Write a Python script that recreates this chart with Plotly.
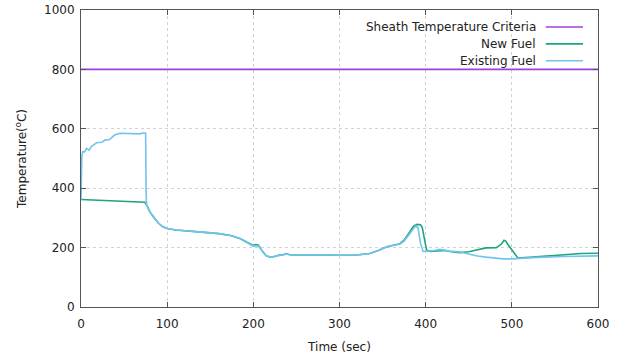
import plotly.graph_objects as go

# ---- data ----
t_crit = [0, 600]
temp_crit = [800, 800]

t_new = [0, 10, 30, 50, 70, 74, 76, 80, 85, 90, 95, 100, 110, 120, 140, 160, 175, 185, 195, 200,
         203, 206, 210, 215, 220, 225, 230, 235, 238, 242, 250, 270, 300, 320, 335, 345, 355, 365,
         370, 375, 380, 386, 390, 394, 396, 398, 401, 405, 415, 422, 430, 440, 450, 460, 470, 482,
         488, 491, 493, 495, 498, 503, 507, 520, 540, 560, 580, 600]
temp_new = [362, 361, 359, 357, 355, 353, 345, 320, 300, 282, 270, 264, 259, 256, 252, 247, 240, 230,
            215, 207, 210, 208, 190, 172, 168, 170, 175, 176, 180, 176, 175, 176, 174, 175, 180, 190,
            203, 210, 213, 225, 245, 272, 278, 277, 268, 240, 192, 187, 188, 190, 186, 183, 186, 192,
            199, 200, 212, 225, 222, 212, 200, 180, 165, 167, 172, 176, 180, 181]

t_exist = [0, 0.5, 1, 2, 4, 6.5, 9.5, 12, 18, 24, 28, 33, 39, 45, 55, 65, 68, 72, 74, 75, 75.5, 76,
           80, 85, 90, 95, 100, 110, 120, 140, 160, 175, 185, 195, 200, 203, 206, 210, 215, 220, 225,
           230, 235, 238, 242, 250, 270, 300, 320, 335, 345, 355, 365, 370, 375, 380, 388, 391, 394,
           397, 405, 410, 416, 420, 428, 440, 450, 460, 470, 480, 490, 500, 510, 530, 560, 600]
temp_exist = [360, 480, 510, 523, 522, 534, 528, 540, 553, 555, 562, 564, 579, 585, 585, 585, 583, 586,
              587, 585, 400, 345, 320, 300, 282, 270, 264, 259, 256, 252, 247, 240, 230, 215, 205, 206,
              205, 190, 172, 168, 170, 174, 176, 180, 176, 175, 176, 174, 175, 180, 190, 203, 210, 212,
              222, 240, 272, 268, 215, 187, 188, 190, 194, 192, 188, 185, 178, 172, 168, 164, 162, 162,
              164, 167, 170, 172]

series_names = ["Sheath Temperature Criteria", "New Fuel", "Existing Fuel"]
colors = ["#a23de0", "#1ea57c", "#72c3ee"]

FONT = "DejaVu Sans"
TXT = "#222"

fig = go.Figure()
for x, y, name, c in zip([t_crit, t_new, t_exist], [temp_crit, temp_new, temp_exist], series_names, colors):
    fig.add_trace(go.Scatter(x=x, y=y, mode="lines", name=name,
                             line=dict(color=c, width=1.6), showlegend=False))

# manual gnuplot-style legend (text left, sample right)
rows_y = [0.943, 0.886, 0.829]
for name, c, yy in zip(series_names, colors, rows_y):
    fig.add_annotation(x=0.884, y=yy, xref="paper", yref="paper", text=name, showarrow=False,
                       xanchor="right", yanchor="middle", font=dict(family=FONT, size=12, color=TXT))
    fig.add_shape(type="line", xref="paper", yref="paper", x0=0.899, x1=0.971, y0=yy, y1=yy,
                  line=dict(color=c, width=1.6))

axis_common = dict(showline=True, linecolor="#555", linewidth=1, mirror="allticks",
                   ticks="inside", ticklen=5, tickcolor="#555", zeroline=False, automargin=False,
                   showgrid=True, gridcolor="#d2d2d2", griddash="dot", gridwidth=1,
                   tickfont=dict(family=FONT, size=12, color=TXT))

fig.update_xaxes(range=[0, 600], dtick=100, tick0=0, ticklabelstandoff=6,
                 title=dict(text="Time (sec)", font=dict(family=FONT, size=12, color=TXT), standoff=12),
                 **axis_common)
fig.update_yaxes(range=[0, 1000], dtick=200, tick0=0, ticklabelstandoff=3,
                 title=dict(text="Temperature(<sup>o</sup>C)", font=dict(family=FONT, size=12, color=TXT), standoff=14),
                 **axis_common)

fig.update_layout(width=619, height=362, margin=dict(l=81, r=21, t=10, b=55),
                  plot_bgcolor="white", paper_bgcolor="white",
                  font=dict(family=FONT, size=12, color=TXT))

fig.write_html("out.html")
